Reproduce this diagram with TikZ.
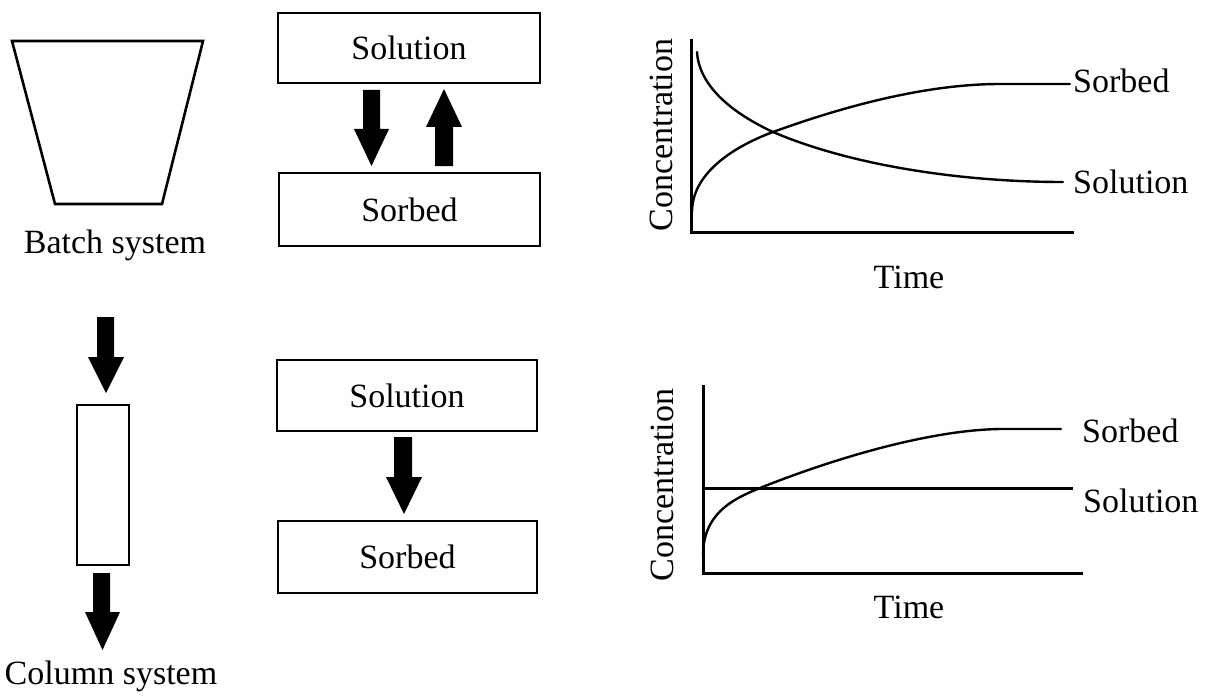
\documentclass[tikz,border=0pt]{standalone}
\usepackage{fontspec}
\setmainfont{Liberation Serif}
\begin{document}
\begin{tikzpicture}[x=1pt,y=-1pt,
  lbl/.style={font=\fontsize{34}{40}\selectfont, inner sep=0pt},
  boxnode/.style={draw, line width=2.6pt, inner sep=0pt},
  ax/.style={line width=3pt},
  crv/.style={line width=2.4pt, line cap=round},
  blk/.style={fill=black}
]
\useasboundingbox (0,0) rectangle (1209,698);

% ---------- Batch system ----------
\draw[line width=2.6pt, line join=miter] (12,41) -- (203,41) -- (162,204) -- (55,204) -- cycle;
\node[lbl, anchor=base] (batch) at (115,253) {Batch system};

% ---------- Column system ----------
\node[boxnode, minimum width=52pt, minimum height=160pt] (col) at (103,485) {};
\fill[blk] (97,317) -- (114,317) -- (114,357) -- (124,357) -- (106,393) -- (88,357) -- (97,357) -- cycle;
\fill[blk] (93,573) -- (110,573) -- (110,612) -- (120,612) -- (102.5,650) -- (85,612) -- (93,612) -- cycle;
\node[lbl, anchor=base] (column) at (111,684) {Column system};

% ---------- Top boxes ----------
\node[boxnode, minimum width=262pt, minimum height=70pt, lbl] (sol1) at (409,48) {Solution};
\node[boxnode, minimum width=261pt, minimum height=73pt, lbl] (sor1) at (409.5,209.5) {Sorbed};
\fill[blk] (363,90) -- (380,90) -- (380,129) -- (389,129) -- (371.5,166) -- (354,129) -- (363,129) -- cycle;
\fill[blk] (435,166) -- (453,166) -- (453,127) -- (462,127) -- (444,89) -- (426,127) -- (435,127) -- cycle;

% ---------- Bottom boxes ----------
\node[boxnode, minimum width=260pt, minimum height=71pt, lbl] (sol2) at (407,395.5) {Solution};
\node[boxnode, minimum width=259pt, minimum height=72pt, lbl] (sor2) at (407.5,557) {Sorbed};
\fill[blk] (394,437) -- (412,437) -- (412,477) -- (422,477) -- (404,514) -- (386,477) -- (394,477) -- cycle;

% ---------- Graph 1 ----------
\coordinate (o1) at (691,232);
\draw[ax] (691,39) -- (o1) -- (1074,232);
\draw[crv] (692,212) .. controls (692,175) and (730,148) .. (773,132)
                     .. controls (850,104) and (930,84) .. (1000,84) -- (1070,84);
\draw[crv] (697,52) .. controls (699,85) and (730,112) .. (773,132)
                    .. controls (850,165) and (960,182) .. (1063,182);
\node[lbl, anchor=base west] (sorlab1) at (1073,93) {Sorbed};
\node[lbl, anchor=base west] (sollab1) at (1073,193) {Solution};
\node[lbl, anchor=base] (time1) at (909,288) {Time};
\node[lbl, rotate=90] (conc1) at (661,135) {Concentration};

% ---------- Graph 2 ----------
\coordinate (o2) at (703,573);
\draw[ax] (703,385) -- (o2) -- (1083,573);
\draw[ax] (703,488) -- (1073,488);
\draw[crv] (703,556) .. controls (703,515) and (730,500) .. (760,488)
                     .. controls (835,458) and (930,430) .. (1000,429) -- (1061,429);
\node[lbl, anchor=base west] (sorlab2) at (1082,442) {Sorbed};
\node[lbl, anchor=base west] (sollab2) at (1083,512) {Solution};
\node[lbl, anchor=base] (time2) at (909,618) {Time};
\node[lbl, rotate=90] (conc2) at (662,485) {Concentration};
\end{tikzpicture}
\end{document}
